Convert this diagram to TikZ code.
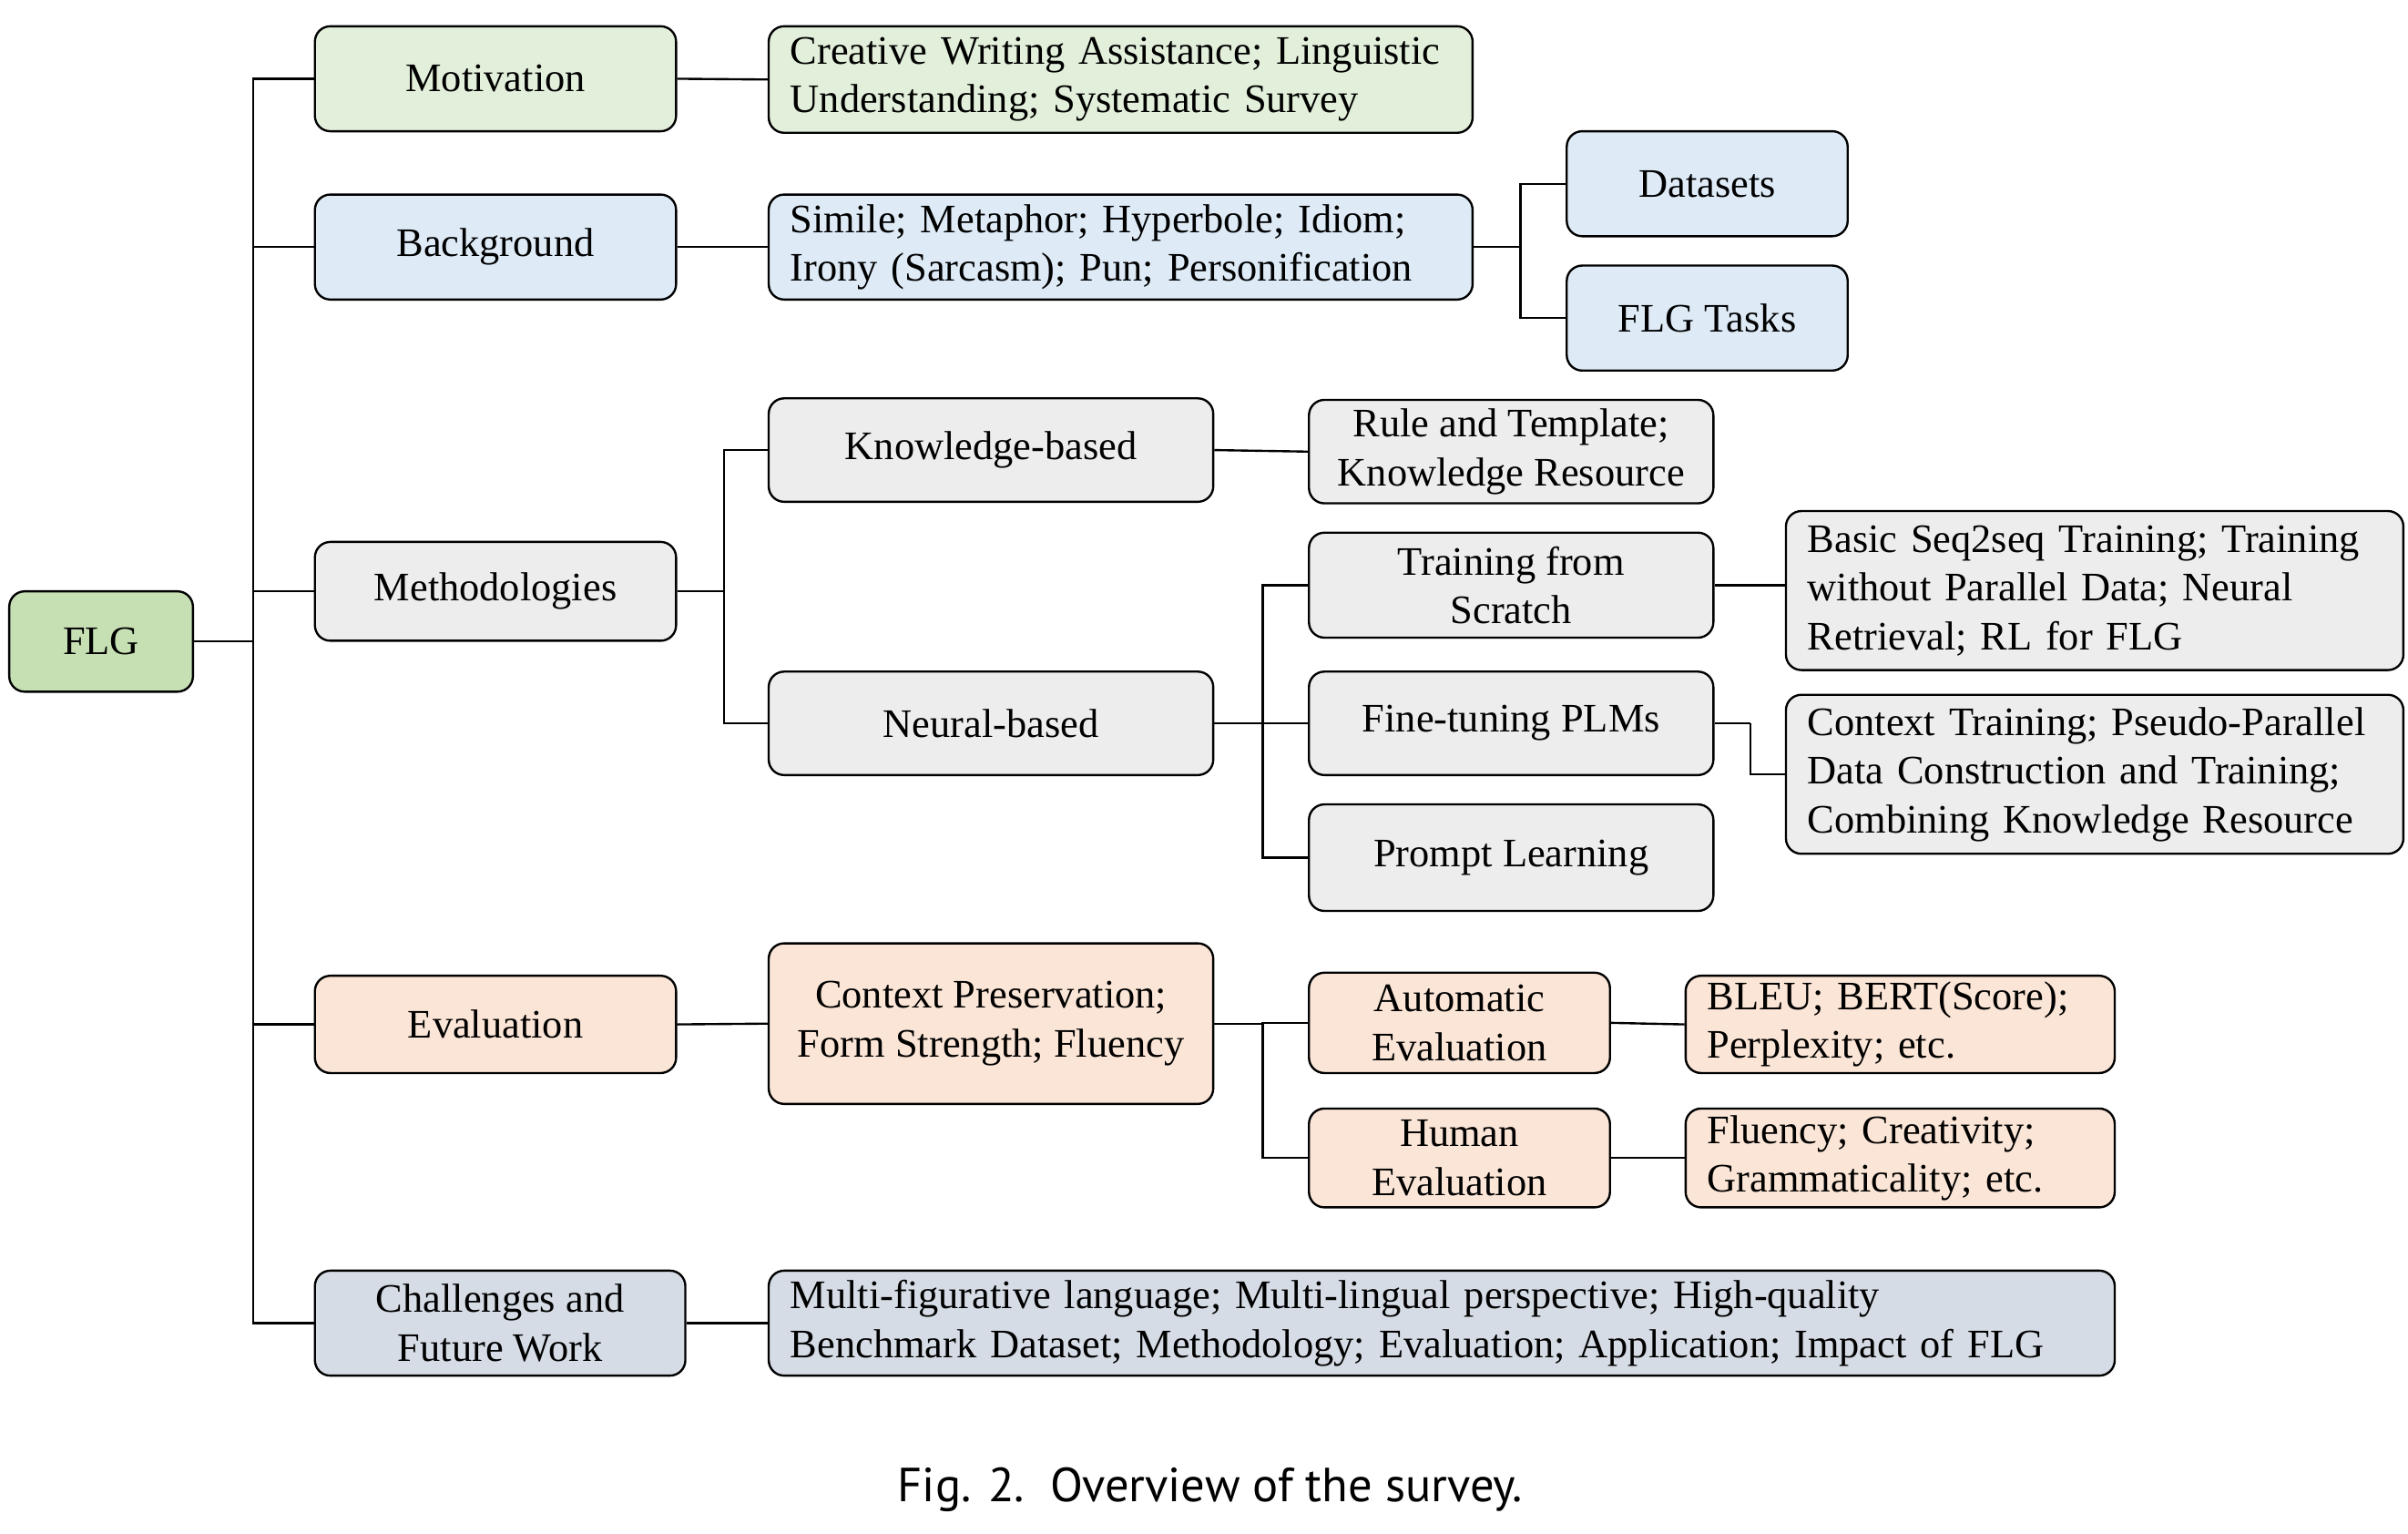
\documentclass[tikz,border=0pt]{standalone}
\usepackage{fontspec}
\setmainfont{Liberation Serif}
\newfontfamily\capfont{PT Sans}
\definecolor{cFLG}{HTML}{C6E0B4}
\definecolor{cGreen}{HTML}{E2EFDA}
\definecolor{cBlue}{HTML}{DEEBF7}
\definecolor{cGray}{HTML}{EDEDED}
\definecolor{cOrange}{HTML}{FBE5D6}
\definecolor{cSlate}{HTML}{D6DCE5}
\tikzset{
  bx/.style={draw=black, line width=0.7pt, rounded corners=5pt, inner sep=0pt,
    align=center, font=\fontsize{13.1pt}{15.8pt}\selectfont},
  sz/.style 2 args={minimum width=#1, minimum height=#2},
  lt/.style 2 args={text width=#1, inner xsep=7pt, align=left, minimum height=#2},
  ln/.style={line width=0.7pt},
  gA/.style={fill=cFLG}, gB/.style={fill=cGreen}, bl/.style={fill=cBlue},
  gy/.style={fill=cGray}, orr/.style={fill=cOrange}, sl/.style={fill=cSlate}}
\begin{document}
\begin{tikzpicture}[x=0.5pt,y=-0.5pt]
\useasboundingbox (0,0) rectangle (1560,993);

% level 0
\node[bx,gA,sz={59.5pt}{32.5pt}] (flg) at (65.5,415.5) {FLG};
% level 1
\node[bx,gB,sz={117pt}{34pt}] (mot) at (321,51) {Motivation};
\node[bx,bl,sz={117pt}{34pt}] (bak) at (321,160) {Background};
\node[bx,gy,sz={117pt}{32pt}] (met) at (321,383) {Methodologies};
\node[bx,orr,sz={117pt}{31.5pt}] (eva) at (321,663.5) {Evaluation};
\node[bx,sl,sz={120pt}{34pt}] (cha) at (324,857) {Challenges and\\Future Work};
% motivation / background details
\node[bx,gB,lt={214pt}{34.5pt}] (motT) at (726,51.5) {Creative Writing Assistance; Linguistic\\Understanding; Systematic Survey};
\node[bx,bl,lt={214pt}{34pt}] (bakT) at (726,160) {Simile; Metaphor; Hyperbole; Idiom;\\Irony (Sarcasm); Pun; Personification};
\node[bx,bl,sz={91pt}{34pt}] (dat) at (1106,119) {Datasets};
\node[bx,bl,sz={91pt}{34pt}] (tas) at (1106,206) {FLG Tasks};
% methodologies
\node[bx,gy,sz={144pt}{33.5pt}] (kno) at (642,291.5) {Knowledge-based};
\node[bx,gy,sz={144pt}{33.5pt}] (neu) at (642,468.5) {Neural-based};
\node[bx,gy,sz={131pt}{33.5pt}] (rul) at (979,292.5) {Rule and Template;\\Knowledge Resource};
\node[bx,gy,sz={131pt}{34pt}] (tfs) at (979,379) {Training from\\Scratch};
\node[bx,gy,sz={131pt}{33.5pt}] (ftp) at (979,468.5) {Fine-tuning PLMs};
\node[bx,gy,sz={131pt}{34.5pt}] (pro) at (979,555.5) {Prompt Learning};
\node[bx,gy,lt={186pt}{51.5pt}] (bas) at (1357,382.5) {Basic Seq2seq Training; Training\\without Parallel Data; Neural\\Retrieval; RL for FLG};
\node[bx,gy,lt={186pt}{51.5pt}] (ctr) at (1357,501.5) {Context Training; Pseudo-Parallel\\Data Construction and Training;\\Combining Knowledge Resource};
% evaluation
\node[bx,orr,sz={144pt}{52pt}] (cpr) at (642,663) {Context Preservation;\\Form Strength; Fluency};
\node[bx,orr,sz={97.5pt}{32.5pt}] (aut) at (945.5,662.5) {Automatic\\Evaluation};
\node[bx,orr,sz={97.5pt}{32pt}] (hum) at (945.5,750) {Human\\Evaluation};
\node[bx,orr,lt={125pt}{31.5pt}] (ble) at (1231,663.5) {BLEU; BERT(Score);\\Perplexity; etc.};
\node[bx,orr,lt={125pt}{32pt}] (flu) at (1231,750) {Fluency; Creativity;\\Grammaticality; etc.};
% challenges
\node[bx,sl,lt={422pt}{34pt}] (mul) at (934,857) {Multi-figurative language; Multi-lingual perspective; High-quality\\Benchmark Dataset; Methodology; Evaluation; Application; Impact of FLG};
% caption
\node[font=\capfont\fontsize{15.5pt}{18pt}\selectfont, inner sep=0pt] (cap) at (784,965) {Fig. 2.\ \ Overview of the survey.};

% junction coordinates
\coordinate (j0) at (164,415.5);
\coordinate (j1) at (985,160);
\coordinate (j2) at (469,383);
\coordinate (j3) at (818,468.5);
\coordinate (j4) at (1134,468.5);
\coordinate (j5) at (818,663);

% connectors
\draw[ln] (flg.east) -- (j0);
\draw[ln] (j0) |- (mot.west);
\draw[ln] (j0) |- (bak.west);
\draw[ln] (j0) |- (met.west);
\draw[ln] (j0) |- (eva.west);
\draw[ln] (j0) |- (cha.west);
\draw[ln] (mot.east) -- (motT.west);
\draw[ln] (bak.east) -- (bakT.west);
\draw[ln] (bakT.east) -- (j1);
\draw[ln] (j1) |- (dat.west);
\draw[ln] (j1) |- (tas.west);
\draw[ln] (met.east) -- (j2);
\draw[ln] (j2) |- (kno.west);
\draw[ln] (j2) |- (neu.west);
\draw[ln] (kno.east) -- (rul.west);
\draw[ln] (neu.east) -- (j3);
\draw[ln] (j3) |- (tfs.west);
\draw[ln] (j3) |- (ftp.west);
\draw[ln] (j3) |- (pro.west);
\draw[ln] (tfs.east) -- (tfs.east -| bas.west);
\draw[ln] (ftp.east) -- (j4);
\draw[ln] (j4) |- (ctr.west);
\draw[ln] (eva.east) -- (cpr.west);
\draw[ln] (cpr.east) -- (j5);
\draw[ln] (j5) |- (aut.west);
\draw[ln] (j5) |- (hum.west);
\draw[ln] (aut.east) -- (ble.west);
\draw[ln] (hum.east) -- (flu.west);
\draw[ln] (cha.east) -- (mul.west);
\end{tikzpicture}
\end{document}
